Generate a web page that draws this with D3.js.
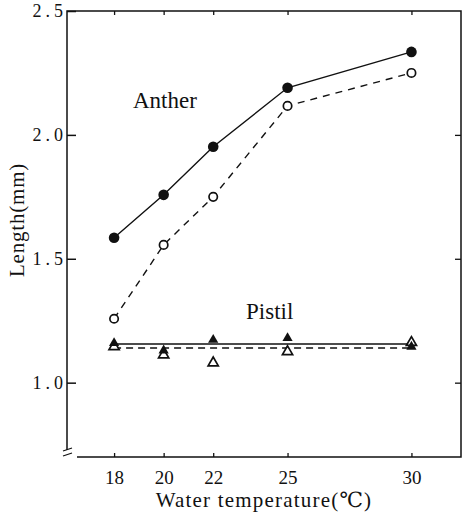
<!DOCTYPE html>
<html>
<head>
<meta charset="utf-8">
<script src="https://cdn.jsdelivr.net/npm/d3@7"></script>
<style>
  body { margin: 0; background: #fff; }
  svg { display: block; }
</style>
</head>
<body>
<svg></svg>
<script>
const w = 463;
const h = 516;
const serif = '"Liberation Serif", "Times New Roman", Times, "DejaVu Serif", serif';

// water temperature (°C)
const temps = [18, 20, 22, 25, 30];
// anther length (mm)
const antherFilled = [1.585, 1.758, 1.952, 2.19, 2.335];
const antherOpen = [1.258, 1.556, 1.75, 2.117, 2.25];
// pistil length (mm)
const pistilFilled = [1.16, 1.13, 1.173, 1.18, 1.145];
const pistilOpen = [1.145, 1.112, 1.08, 1.125, 1.162];
const pistilFilledMean = 1.156;
const pistilOpenMean = 1.14;
const yTicks = [1.0, 1.5, 2.0, 2.5];

const plotL = 67, plotR = 461, plotT = 11, plotB = 457;

let canvas = d3.select('svg').attr('width', w).attr('height', h);

const xScale = d3.scaleLinear().domain([16.1, 32]).range([plotL, plotR]);
const yScale = d3.scaleLinear().domain([0.7, 2.5]).range([plotB, plotT]);

// frame
canvas.append('path')
	.attr('d', `M${plotL},${plotB - 7} L${plotL},${plotT} L${plotR},${plotT} L${plotR},${plotB} L${plotL + 10},${plotB}`)
	.attr('fill', 'none').attr('stroke', '#111').attr('stroke-width', 1.5);

// axis break
canvas.append('path')
	.attr('d', `M${plotL - 4},${plotB - 6} L${plotL + 5},${plotB - 9} M${plotL - 4},${plotB - 1} L${plotL + 5},${plotB - 4}`)
	.attr('fill', 'none').attr('stroke', '#111').attr('stroke-width', 1.3);

// bottom axis
const xAxis = d3.axisBottom(xScale).tickValues(temps).tickSize(-4).tickPadding(14).tickFormat(d3.format('d'));
const gx = canvas.append('g').attr('transform', `translate(0,${plotB})`).call(xAxis);
gx.select('.domain').remove();
gx.selectAll('line').attr('stroke', '#111').attr('stroke-width', 1.3);
gx.selectAll('text').style('font-family', serif).style('font-size', '19px').attr('fill', '#111');

// top ticks
const gxt = canvas.append('g').attr('transform', `translate(0,${plotT})`).call(d3.axisTop(xScale).tickValues(temps).tickSize(-4).tickFormat(''));
gxt.select('.domain').remove();
gxt.selectAll('line').attr('stroke', '#111').attr('stroke-width', 1.3);

// left axis
const yAxis = d3.axisLeft(yScale).tickValues(yTicks).tickSize(-9).tickPadding(0).tickFormat(d3.format('.1f'));
const gy = canvas.append('g').attr('transform', `translate(${plotL},0)`).call(yAxis);
gy.select('.domain').remove();
gy.selectAll('line').attr('stroke', '#111').attr('stroke-width', 1.5);
gy.selectAll('text').style('font-family', serif).style('font-size', '18px').attr('letter-spacing', 4).attr('fill', '#111');

// right ticks
const gyr = canvas.append('g').attr('transform', `translate(${plotR},0)`).call(d3.axisRight(yScale).tickValues([1.0, 1.5, 2.0]).tickSize(-6).tickFormat(''));
gyr.select('.domain').remove();
gyr.selectAll('line').attr('stroke', '#111').attr('stroke-width', 1.3);

// axis titles
canvas.append('text')
	.attr('x', (plotL + plotR) / 2).attr('y', 507)
	.attr('text-anchor', 'middle').attr('letter-spacing', 1.2)
	.style('font-family', serif).style('font-size', '21px').attr('fill', '#111')
	.text('Water temperature(℃)');

canvas.append('text')
	.attr('transform', `translate(24,220) rotate(-90)`)
	.attr('text-anchor', 'middle').attr('letter-spacing', 0.8)
	.style('font-family', serif).style('font-size', '21px').attr('fill', '#111')
	.text('Length(mm)');

// series labels
canvas.append('text').attr('x', 133).attr('y', 108)
	.style('font-family', serif).style('font-size', '23px').attr('fill', '#111').text('Anther');
canvas.append('text').attr('x', 246).attr('y', 319)
	.style('font-family', serif).style('font-size', '23px').attr('fill', '#111').text('Pistil');

const line = d3.line().x((d, i) => xScale(temps[i])).y((d) => yScale(d));

// anther lines
canvas.append('path').datum(antherFilled).attr('d', line)
	.attr('fill', 'none').attr('stroke', '#111').attr('stroke-width', 1.4);
canvas.append('path').datum(antherOpen).attr('d', line)
	.attr('fill', 'none').attr('stroke', '#111').attr('stroke-width', 1.4).attr('stroke-dasharray', '7,6');

// pistil mean lines
canvas.append('line')
	.attr('x1', xScale(18)).attr('x2', xScale(30))
	.attr('y1', yScale(pistilFilledMean)).attr('y2', yScale(pistilFilledMean))
	.attr('stroke', '#111').attr('stroke-width', 1.5);
canvas.append('line')
	.attr('x1', xScale(18)).attr('x2', xScale(30))
	.attr('y1', yScale(pistilOpenMean)).attr('y2', yScale(pistilOpenMean))
	.attr('stroke', '#111').attr('stroke-width', 1.5).attr('stroke-dasharray', '7,5');

// markers
canvas.selectAll('.af').data(antherFilled).enter().append('circle')
	.attr('cx', (d, i) => xScale(temps[i])).attr('cy', (d) => yScale(d))
	.attr('r', 5.3).attr('fill', '#111');
canvas.selectAll('.ao').data(antherOpen).enter().append('circle')
	.attr('cx', (d, i) => xScale(temps[i])).attr('cy', (d) => yScale(d))
	.attr('r', 4.2).attr('fill', '#fff').attr('stroke', '#111').attr('stroke-width', 1.7);

const tri = d3.symbol().type(d3.symbolTriangle).size(45);
canvas.selectAll('.po').data(pistilOpen).enter().append('path')
	.attr('d', tri)
	.attr('transform', (d, i) => `translate(${xScale(temps[i])},${yScale(d)})`)
	.attr('fill', '#fff').attr('stroke', '#111').attr('stroke-width', 1.7);
canvas.selectAll('.pf').data(pistilFilled).enter().append('path')
	.attr('d', tri)
	.attr('transform', (d, i) => `translate(${xScale(temps[i])},${yScale(d)})`)
	.attr('fill', '#111');
</script>
</body>
</html>
